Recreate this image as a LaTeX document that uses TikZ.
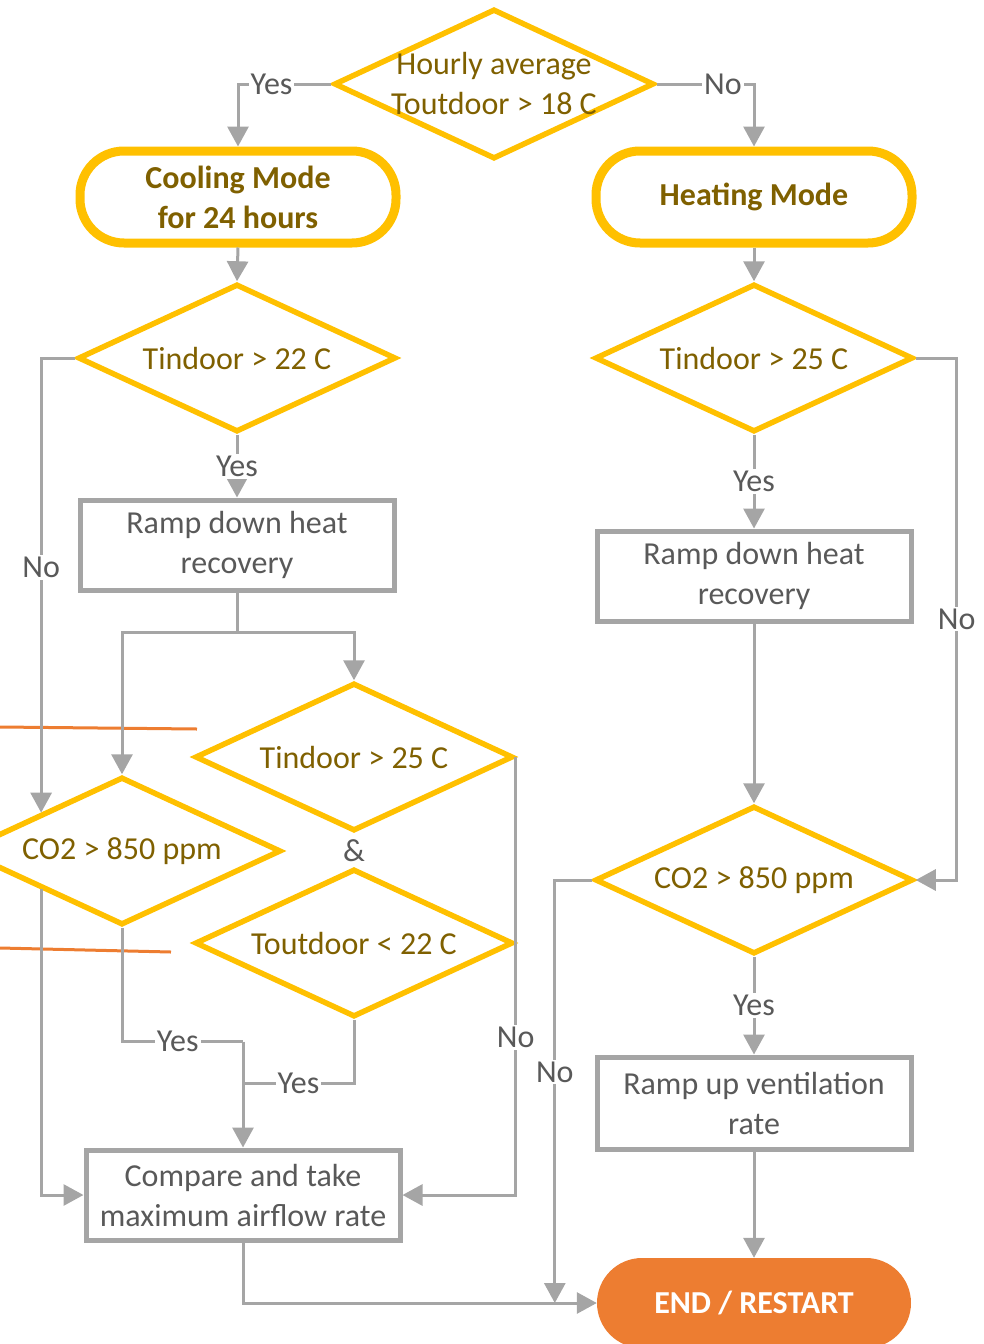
\documentclass[tikz,border=0pt]{standalone}
\usepackage{fontspec}
\setmainfont{Carlito}
\usetikzlibrary{shapes.geometric,arrows.meta,calc}
\definecolor{ylw}{HTML}{FFC000}
\definecolor{olv}{HTML}{7F6000}
\definecolor{lgr}{HTML}{A5A5A5}
\definecolor{dgr}{HTML}{595959}
\definecolor{org}{HTML}{ED7D31}
\begin{document}
\begin{tikzpicture}[x=1pt,y=-1pt,
  every node/.style={font=\fontsize{32}{40}\selectfont},
  dia/.style={diamond, draw=ylw, line width=5.5pt, minimum width=318pt, minimum height=148pt, inner sep=0pt},
  dtxt/.style={text=olv, align=center, inner sep=0pt},
  mode/.style={rectangle, rounded corners=44pt, draw=ylw, line width=9pt, minimum width=316pt, minimum height=92pt, text=olv, font=\fontsize{32}{40}\selectfont\bfseries, align=center},
  proc/.style={rectangle, draw=lgr, line width=5pt, minimum width=314pt, minimum height=90pt, text=dgr, align=center},
  term/.style={rectangle, rounded corners=45pt, fill=org, minimum width=314pt, minimum height=90pt, text=white, font=\fontsize{32}{40}\selectfont\bfseries},
  conn/.style={draw=lgr, line width=3pt},
  arr/.style={conn, -{Triangle[length=20pt,width=21pt]}},
  lbl/.style={fill=white, text=dgr, inner sep=2pt},
  redline/.style={draw=org, line width=3pt}
  ]
\useasboundingbox (0,0) rectangle (983,1344);
\clip (0,0) rectangle (983,1344);

% shapes
\node[dia, minimum width=320pt, minimum height=150pt] (top) at (494,84) {};
\node[dtxt] (topt) at (top.center) {Hourly average\\Toutdoor > 18 C};

\node[mode] (cool) at (238,197) {Cooling Mode\\for 24 hours};
\node[mode] (heat) at (754,197) {Heating Mode};

\node[dia] (d1) at (237,358) {};
\node[dtxt] (d1t) at (d1.center) {Tindoor > 22 C};
\node[dia] (dR1) at (754,358) {};
\node[dtxt] (dR1t) at (dR1.center) {Tindoor > 25 C};

\node[proc] (rd1) at (237,545) {Ramp down heat\\recovery};
\node[proc] (rdR) at (754,576) {Ramp down heat\\recovery};

\node[dia] (d25) at (354,757) {};
\node[dtxt] (d25t) at (d25.center) {Tindoor > 25 C};
\node[text=dgr] (amp) at (354,851) {\&};
\node[dia] (tout) at (354,943) {};
\node[dtxt] (toutt) at (tout.center) {Toutdoor < 22 C};
\node[dia] (co2L) at (122,851) {};
\node[dtxt] (co2Lt) at (co2L.center) {CO2 > 850 ppm};

\node[dia] (co2R) at (754,880) {};
\node[dtxt] (co2Rt) at (co2R.center) {CO2 > 850 ppm};

\node[proc] (cmp) at (243,1195) {Compare and take\\maximum airflow rate};
\node[proc, minimum height=92pt] (rup) at (754,1103) {Ramp up ventilation\\rate};
\node[term] (end) at (754,1303) {END / RESTART};

% orange strokes
\coordinate (o1a) at (0,727); \coordinate (o1b) at (197,729);
\coordinate (o2a) at (0,948); \coordinate (o2b) at (171,952);
\draw[redline] (o1a) -- (o1b);
\draw[redline] (o2a) -- (o2b);

% connectors
\draw[arr] (top.west) -| node[lbl, pos=.32] {Yes} (cool.north);
\draw[arr] (top.east) -| node[lbl, pos=.34] {No} (heat.north);
\draw[arr] (cool.south) -- (d1.north);
\draw[arr] (heat.south) -- (dR1.north);
\draw[arr] (d1.south) -- node[lbl] {Yes} (rd1.north);
\draw[arr] (d1.west) -| node[lbl, pos=.73] {No} (co2L.north west);

\coordinate (split) at ($(rd1.south)+(0,40)$);
\draw[conn] (rd1.south) -- (split);
\draw[arr] (split) -| (co2L.north);
\draw[arr] (split) -| (d25.north);

\coordinate (j1) at ($(cmp.north)+(0,-106)$);
\coordinate (j2) at ($(cmp.north)+(0,-64)$);
\draw[conn] (co2L.south) |- node[lbl, pos=.73] {Yes} (j1);
\draw[conn] (tout.south) |- node[lbl, pos=.75] {Yes} (j2);
\draw[arr] (j1) -- (cmp.north);

\draw[arr] (co2L.south west) |- (cmp.west);
\draw[arr] (d25.east) |- node[lbl, pos=.32] {No} (cmp.east);

\coordinate (nojoin) at ($(end.west)+(-42,0)$);
\draw[arr] (cmp.south) |- (end.west);

\draw[arr] (dR1.south) -- node[lbl] {Yes} (rdR.north);
\draw[arr] (dR1.east) -- ++(41,0) |- node[lbl, pos=.25] {No} (co2R.east);
\draw[arr] (rdR.south) -- (co2R.north);
\draw[arr] (co2R.south) -- node[lbl] {Yes} (rup.north);
\draw[arr] (co2R.west) -| node[lbl, pos=.727] {No} (nojoin);
\draw[arr] (rup.south) -- (end.north);
\end{tikzpicture}
\end{document}
